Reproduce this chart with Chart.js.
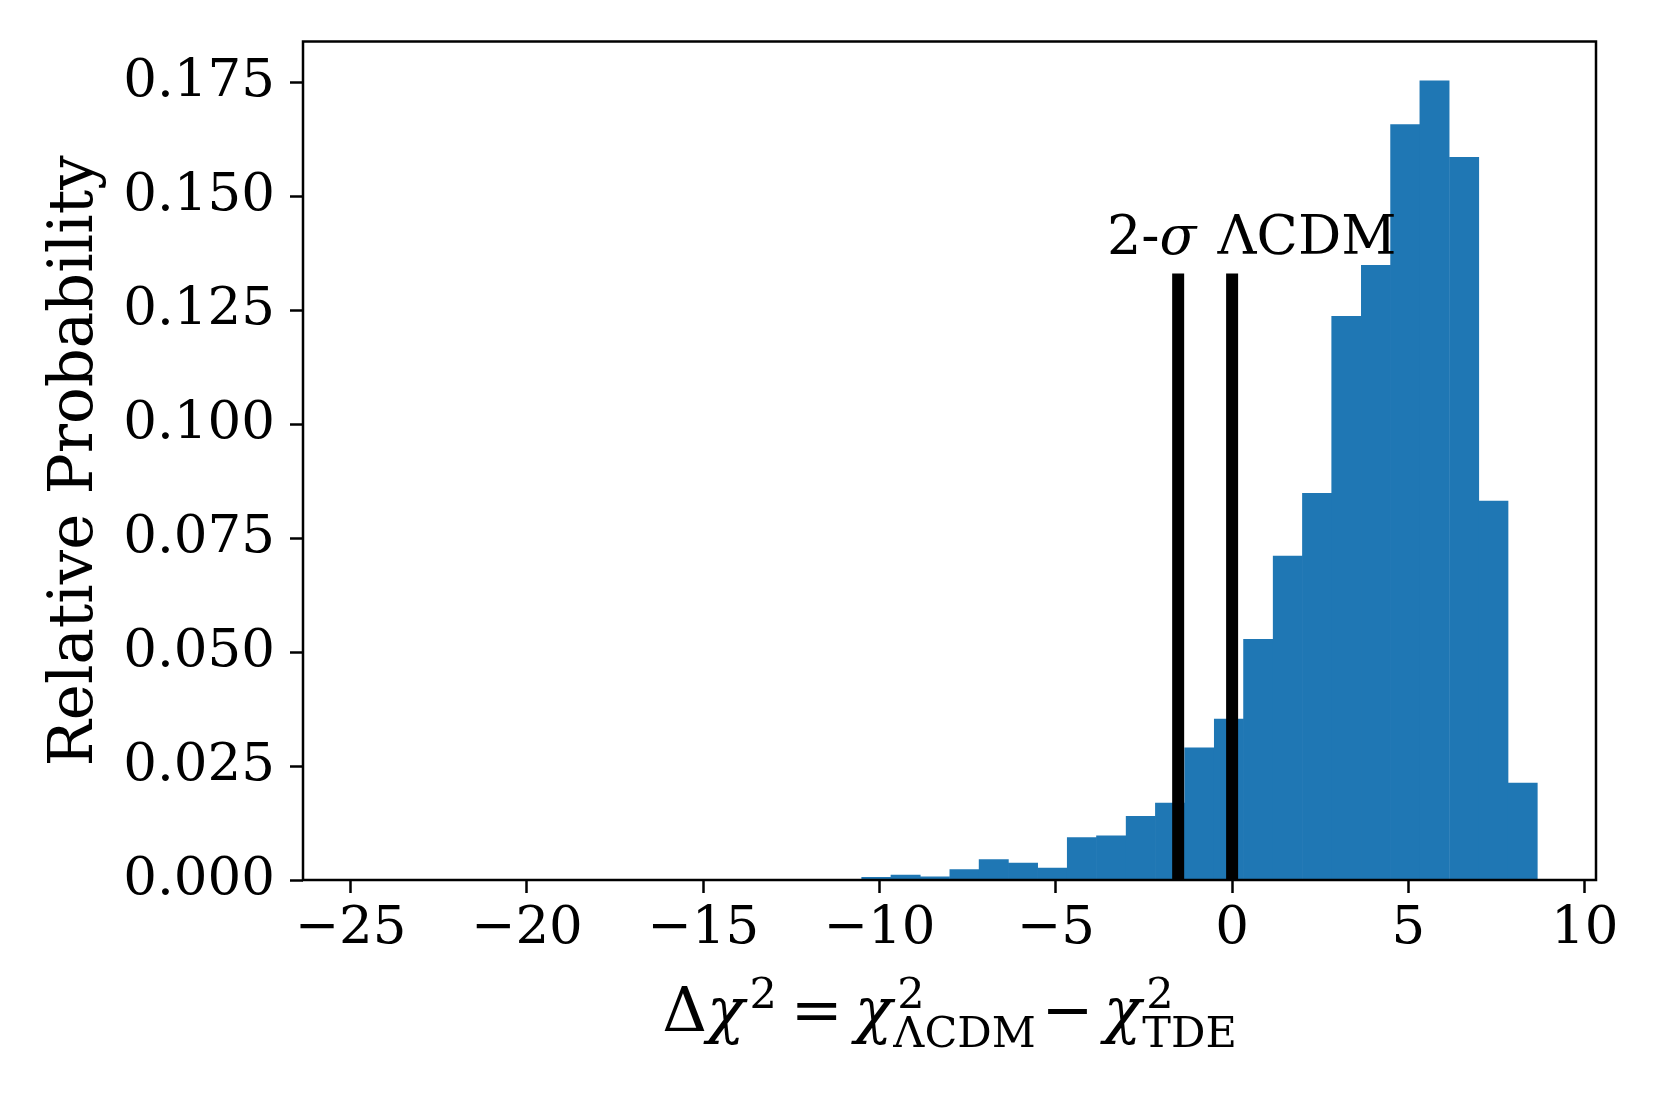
<!DOCTYPE html>
<html>
<head>
<meta charset="utf-8">
<script src="https://cdn.jsdelivr.net/npm/chart.js@4.4.1/dist/chart.umd.min.js"></script>
<style>
  html, body { margin: 0; padding: 0; background: #fff; }
  #wrap { width: 1661px; height: 1107px; position: relative; }
</style>
</head>
<body>
<div id="wrap"><canvas id="hist"></canvas></div>
<script>
// histogram bins (centres) and heights
const binCenters = [
  -24.26, -23.43, -22.60, -21.76, -20.93, -20.10, -19.26, -18.43, -17.60, -16.76,
  -15.93, -15.09, -14.26, -13.43, -12.59, -11.76, -10.93, -10.09, -9.26, -8.43,
  -7.59, -6.76, -5.93, -5.09, -4.26, -3.43, -2.59, -1.76, -0.93, -0.09,
  0.74, 1.58, 2.41, 3.24, 4.08, 4.91, 5.74, 6.58, 7.41, 8.24
];
const probability = [
  0.0001, 0, 0, 0, 0, 0, 0, 0, 0, 0,
  0, 0, 0, 0, 0, 0, 0, 0.0006, 0.0011, 0.0007,
  0.0023, 0.0045, 0.0037, 0.0026, 0.0093, 0.0097, 0.0140, 0.0169, 0.0290, 0.0353,
  0.0528, 0.0711, 0.0849, 0.1237, 0.1349, 0.1658, 0.1754, 0.1586, 0.0832, 0.0213
];
const xTicks = [-25, -20, -15, -10, -5, 0, 5, 10];
const yTicks = [0, 0.025, 0.05, 0.075, 0.1, 0.125, 0.15, 0.175];

// the two marker lines
const sigmaX = [-1.53, -1.53];
const lcdmX = [0, 0];
const markY = [0, 0.1331];
const markText = ["2-", "σ", " ΛCDM"];
const markPos = [-3.55, 0.1374];

const SERIF = '"DejaVu Serif", "Liberation Serif", serif';

const frame = {
  id: 'frame',
  afterDraw(chart) {
    const {ctx, chartArea: a, scales} = chart;
    ctx.save();
    // annotation
    let x = scales.x.getPixelForValue(markPos[0]);
    const y = scales.y.getPixelForValue(markPos[1]);
    ctx.fillStyle = '#000';
    ctx.textBaseline = 'alphabetic';
    ctx.textAlign = 'left';
    markText.forEach((t, i) => {
      ctx.font = (i === 1 ? 'italic ' : '') + '54px ' + SERIF;
      ctx.fillText(t, x, y);
      x += ctx.measureText(t).width + (i === 1 ? 4 : 0);
    });

    // x axis label: Δχ² = χ²_ΛCDM − χ²_TDE
    const big = '62px ' + SERIF, bigI = 'italic 62px ' + SERIF, small = '43px ' + SERIF;
    const base = 1031, sup = base - 23, sub = base + 16;
    const parts = [];
    let cx = 0;
    const put = (t, f, yy, gap) => {
      cx += gap || 0;
      ctx.font = f;
      parts.push({t, f, x: cx, y: yy});
      cx += ctx.measureText(t).width;
    };
    const scripts = (supT, subT) => {
      const x0 = cx;
      ctx.font = small;
      const w1 = ctx.measureText(supT).width + 5;
      const w2 = subT ? ctx.measureText(subT).width + 1 : 0;
      parts.push({t: supT, f: small, x: x0 + 5, y: sup});
      if (subT) parts.push({t: subT, f: small, x: x0 + 1, y: sub});
      cx = x0 + Math.max(w1, w2);
    };
    put('Δ', big, base);
    put('χ', bigI, base);
    scripts('2', '');
    put('=', big, base, 14);
    put('χ', bigI, base, 12);
    scripts('2', 'ΛCDM');
    put('−', big, base, 6);
    put('χ', bigI, base, 10);
    scripts('2', 'TDE');
    const start = (a.left + a.right) / 2 - cx / 2;
    parts.forEach(p => { ctx.font = p.f; ctx.fillText(p.t, start + p.x, p.y); });

    // spines
    ctx.strokeStyle = '#000';
    ctx.lineWidth = 2.5;
    ctx.strokeRect(a.left, a.top, a.right - a.left, a.bottom - a.top);
    ctx.restore();
  }
};

const ctx = document.getElementById('hist').getContext('2d');
new Chart(ctx, {
  type: 'bar',
  data: {
    datasets: [
      {
        type: 'line',
        data: sigmaX.map((v, i) => ({x: v, y: markY[i]})),
        borderColor: '#000',
        borderWidth: 12,
        pointRadius: 0,
        fill: false,
        order: 1
      },
      {
        type: 'line',
        data: lcdmX.map((v, i) => ({x: v, y: markY[i]})),
        borderColor: '#000',
        borderWidth: 12,
        pointRadius: 0,
        fill: false,
        order: 1
      },
      {
        type: 'bar',
        data: binCenters.map((v, i) => ({x: v, y: probability[i]})),
        backgroundColor: '#1f77b4',
        borderWidth: 0,
        barPercentage: 1,
        categoryPercentage: 1,
        grouped: false,
        order: 2
      }
    ]
  },
  options: {
    responsive: true,
    maintainAspectRatio: false,
    animation: false,
    devicePixelRatio: 1,
    layout: { padding: { left: 0, top: 38, right: 65, bottom: 0 } },
    plugins: { legend: { display: false }, tooltip: { enabled: false } },
    scales: {
      x: {
        type: 'linear',
        min: -26.35,
        max: 10.32,
        offset: false,
        afterBuildTicks: s => { s.ticks = xTicks.map(v => ({value: v})); },
        afterFit: s => { s.height = 227; },
        ticks: {
          autoSkip: false,
          maxRotation: 0,
          padding: 4,
          color: '#000',
          font: { family: SERIF, size: 53 },
          callback: v => (v < 0 ? '−' : '') + Math.abs(v)
        },
        grid: { display: true, offset: false, drawOnChartArea: false, drawTicks: true, tickLength: 13, tickWidth: 2.5, tickColor: '#000' },
        border: { display: false }
      },
      y: {
        min: 0,
        max: 0.18405,
        afterBuildTicks: s => { s.ticks = yTicks.map(v => ({value: v})); },
        afterFit: s => { s.width = 303; },
        ticks: {
          padding: 15,
          color: '#000',
          font: { family: SERIF, size: 53, lineHeight: 1 },
          callback: v => v.toFixed(3)
        },
        grid: { display: true, drawOnChartArea: false, drawTicks: true, tickLength: 13, tickWidth: 2.5, tickColor: '#000' },
        border: { display: false },
        title: {
          display: true,
          text: 'Relative Probability',
          color: '#000',
          font: { family: SERIF, size: 61 },
          padding: { top: 40, bottom: 0 }
        }
      }
    }
  },
  plugins: [frame]
});
</script>
</body>
</html>
